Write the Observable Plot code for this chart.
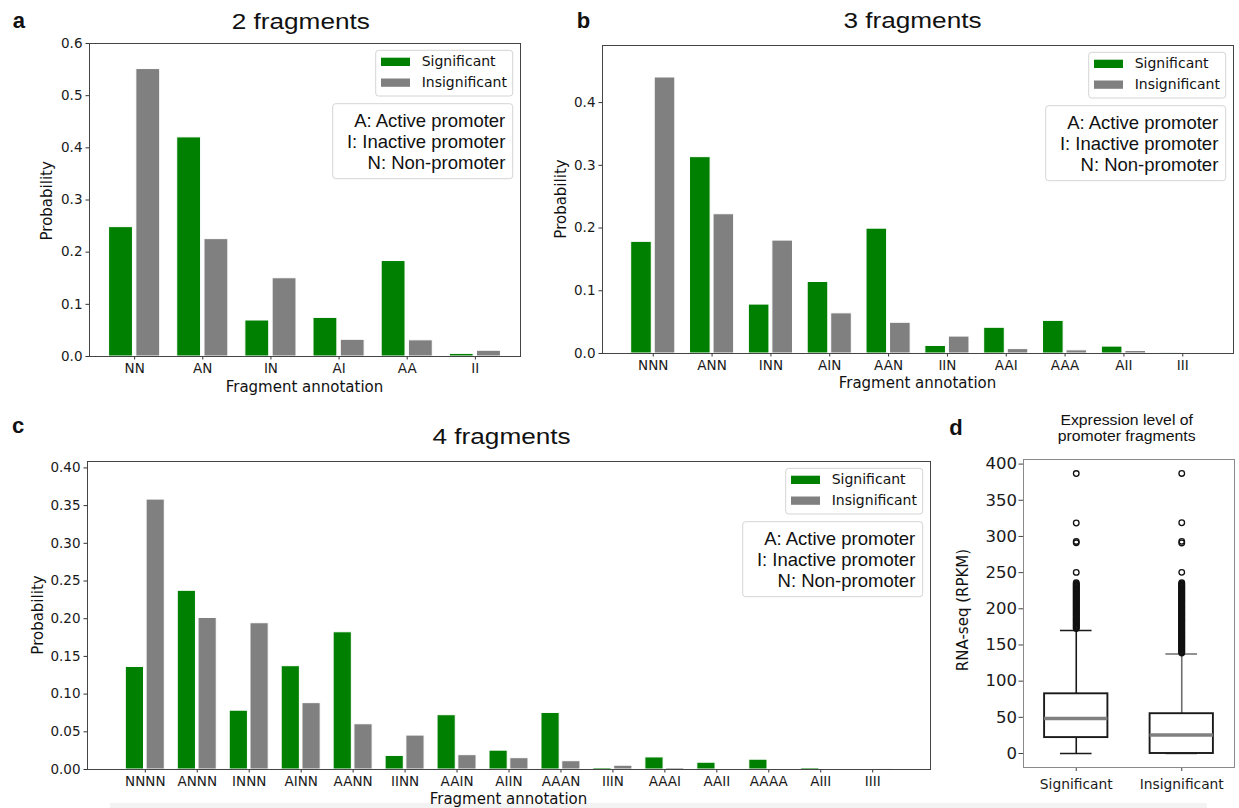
<!DOCTYPE html>
<html>
<head>
<meta charset="utf-8">
<title>Fragment annotation probabilities</title>
<script src="https://cdn.jsdelivr.net/npm/d3@7"></script>
<script src="https://cdn.jsdelivr.net/npm/@observablehq/plot@0.6"></script>
<style>
  html, body { margin: 0; padding: 0; background: #fff; }
  #fig { position: relative; width: 1239px; height: 808px; overflow: hidden; background: #fff; }
  #fig > svg { position: absolute; }
  #band { position: absolute; left: 110px; top: 803px; width: 1097px; height: 5px; background: #f3f3f3; }
</style>
</head>
<body>
<div id="fig"><div id="band"></div></div>
<script>
// ---- data -----------------------------------------------------------------
const seriesNames = ["Significant", "Insignificant"];
const seriesColors = ["#008000", "#808080"];
const keyLines = ["A: Active promoter", "I: Inactive promoter", "N: Non-promoter"];

// 2 fragments
const cats2 = ["NN", "AN", "IN", "AI", "AA", "II"];
const sig2 = [0.248, 0.420, 0.069, 0.074, 0.183, 0.005];
const insig2 = [0.551, 0.225, 0.150, 0.032, 0.031, 0.011];
const yTicks2 = [0, 0.1, 0.2, 0.3, 0.4, 0.5, 0.6];

// 3 fragments
const cats3 = ["NNN", "ANN", "INN", "AIN", "AAN", "IIN", "AAI", "AAA", "AII", "III"];
const sig3 = [0.178, 0.313, 0.078, 0.114, 0.199, 0.012, 0.041, 0.052, 0.011, 0.0003];
const insig3 = [0.440, 0.222, 0.180, 0.064, 0.049, 0.027, 0.007, 0.005, 0.004, 0.001];
const yTicks3 = [0, 0.1, 0.2, 0.3, 0.4];

// 4 fragments
const cats4 = ["NNNN", "ANNN", "INNN", "AINN", "AANN", "IINN", "AAIN", "AIIN", "AAAN", "IIIN", "AAAI", "AAII", "AAAA", "AIII", "IIII"];
const sig4 = [0.136, 0.237, 0.078, 0.137, 0.182, 0.018, 0.072, 0.025, 0.075, 0.002, 0.016, 0.009, 0.013, 0.002, 0.0];
const insig4 = [0.358, 0.201, 0.194, 0.088, 0.060, 0.045, 0.019, 0.015, 0.011, 0.005, 0.002, 0.001, 0.001, 0.001, 0.0005];
const yTicks4 = [0, 0.05, 0.10, 0.15, 0.20, 0.25, 0.30, 0.35, 0.40];

// Expression level (RPKM) box summaries
const boxGroups = ["Significant", "Insignificant"];
const boxPos = [1, 2];
const boxQ1 = [22, 0];
const boxMedian = [48.5, 25.5];
const boxQ3 = [82.5, 55];
const whiskerLow = [0, 0];
const whiskerHigh = [170, 137.5];
const fliersSig = [172.6, 173.7, 174.9, 176.2, 177.3, 178.5, 179.8, 180.9, 182.1, 183.4, 184.5, 185.7, 187.0, 188.1,
  189.3, 190.6, 191.7, 192.9, 194.2, 195.3, 196.5, 197.8, 198.9, 200.1, 201.4, 202.5, 203.7, 205.0, 206.1, 207.3,
  208.6, 209.7, 210.9, 212.2, 213.3, 214.5, 215.8, 216.9, 218.1, 219.4, 220.5, 221.7, 223.0, 224.1, 225.3, 226.6,
  227.7, 228.9, 230.2, 231.3, 232.5, 233.6, 234.8, 235.9, 250.3, 291.2, 293.1, 318.6, 386.9];
const fliersInsig = [139.0, 140.2, 141.3, 142.6, 143.8, 144.9, 146.1, 147.4, 148.5, 149.7, 151.0, 152.1, 153.3, 154.6,
  155.7, 156.9, 158.2, 159.3, 160.5, 161.8, 162.9, 164.1, 165.4, 166.5, 167.7, 169.0, 170.1, 171.3, 172.6, 173.7,
  174.9, 176.2, 177.3, 178.5, 179.8, 180.9, 182.1, 183.4, 184.5, 185.7, 187.0, 188.1, 189.3, 190.6, 191.7, 192.9,
  194.2, 195.3, 196.5, 197.8, 198.9, 200.1, 201.4, 202.5, 203.7, 205.0, 206.1, 207.3, 208.6, 209.7, 210.9, 212.2,
  213.3, 214.5, 215.8, 216.9, 218.1, 219.4, 220.5, 221.7, 223.0, 224.1, 225.3, 226.6, 227.7, 228.9, 230.2, 231.3,
  232.5, 233.6, 234.8, 235.9, 250.4, 291.0, 293.2, 318.9, 387.1];
const yTicksBox = [0, 50, 100, 150, 200, 250, 300, 350, 400];

// ---- layout ---------------------------------------------------------------
// plot frames: [left, right, top, bottom] on the page
const frames = {
  a: [89, 520, 43, 356],
  b: [602, 1233, 45, 353],
  c: [87, 930, 461, 769],
  d: [1023, 1234, 459, 767]
};
const fig = document.getElementById("fig");
const DV = "'DejaVu Sans', sans-serif";
const SANS = "'Liberation Sans', Arial, Helvetica, sans-serif";

function mount(svg, frame, m) {
  svg.style.left = (frame[0] - m.left) + "px";
  svg.style.top = (frame[2] - m.top) + "px";
  fig.appendChild(svg);
}

// grouped bar chart: significant bars left of each tick, insignificant right
function barPanel(cats, sig, insig, frame, xDomain, yDomain, yTicks, fmt) {
  const m = {left: 60, right: 6, top: 6, bottom: 30};
  const rows = cats.flatMap((c, i) => [
    {i, v: sig[i], k: seriesNames[0]},
    {i, v: insig[i], k: seriesNames[1]}
  ]);
  const svg = Plot.plot({
    width: frame[1] - frame[0] + m.left + m.right,
    height: frame[3] - frame[2] + m.top + m.bottom,
    marginLeft: m.left, marginRight: m.right, marginTop: m.top, marginBottom: m.bottom,
    style: {fontFamily: DV, fontSize: "13.5px", color: "#1a1a1a", background: "transparent", overflow: "visible"},
    x: {type: "linear", domain: xDomain},
    y: {type: "linear", domain: yDomain},
    color: {domain: seriesNames, range: seriesColors},
    marks: [
      Plot.rect(rows, {
        x1: d => d.i + (d.k === seriesNames[0] ? -0.375 : 0.025),
        x2: d => d.i + (d.k === seriesNames[0] ? -0.025 : 0.375),
        y1: 0, y2: "v", fill: "k", stroke: "white", strokeWidth: 1
      }),
      Plot.axisY({ticks: yTicks, tickFormat: fmt, tickSize: 3.5, tickPadding: 3.5, label: null, stroke: "#333"}),
      Plot.axisX({ticks: cats.map((c, i) => i), tickFormat: i => cats[i], tickSize: 3.5, tickPadding: 3.5, label: null, stroke: "#333"}),
      Plot.frame({stroke: "#444", strokeWidth: 1})
    ]
  });
  mount(svg, frame, m);
}

barPanel(cats2, sig2, insig2, frames.a, [-0.6625, 5.6625], [0, 0.6], yTicks2, d3.format(".1f"));
barPanel(cats3, sig3, insig3, frames.b, [-0.8625, 9.8625], [0, 0.491], yTicks3, d3.format(".1f"));
barPanel(cats4, sig4, insig4, frames.c, [-1.1125, 15.1125], [0, 0.4085], yTicks4, d3.format(".2f"));

// box plot of expression levels
(function boxPanel() {
  const frame = frames.d;
  const m = {left: 50, right: 4, top: 6, bottom: 30};
  const stats = boxGroups.map((g, j) => ({
    g, pos: boxPos[j], q1: boxQ1[j], med: boxMedian[j], q3: boxQ3[j], lo: whiskerLow[j], hi: whiskerHigh[j],
    fliers: j === 0 ? fliersSig : fliersInsig,
    wc: j === 0 ? "#1a1a1a" : "#6e6e6e"
  }));
  const marks = stats.flatMap(s => [
    Plot.ruleX([s], {x: "pos", y1: "q3", y2: "hi", stroke: s.wc, strokeWidth: 1.6}),
    Plot.ruleX([s], {x: "pos", y1: "lo", y2: "q1", stroke: s.wc, strokeWidth: 1.6}),
    Plot.ruleY([s], {y: "hi", x1: d => d.pos - 0.15, x2: d => d.pos + 0.15, stroke: s.wc, strokeWidth: 1.6}),
    Plot.ruleY([s], {y: "lo", x1: d => d.pos - 0.15, x2: d => d.pos + 0.15, stroke: s.wc, strokeWidth: 1.6}),
    Plot.rect([s], {x1: d => d.pos - 0.3, x2: d => d.pos + 0.3, y1: "q1", y2: "q3", fill: "white", stroke: "#1a1a1a", strokeWidth: 1.9}),
    Plot.ruleY([s], {y: "med", x1: d => d.pos - 0.3, x2: d => d.pos + 0.3, stroke: "#808080", strokeWidth: 3.5}),
    Plot.dot(s.fliers, {x: () => s.pos, y: v => v, r: 2.8, stroke: "#111", strokeWidth: 1.3, fill: "none"})
  ]);
  const svg = Plot.plot({
    width: frame[1] - frame[0] + m.left + m.right,
    height: frame[3] - frame[2] + m.top + m.bottom,
    marginLeft: m.left, marginRight: m.right, marginTop: m.top, marginBottom: m.bottom,
    style: {fontFamily: DV, fontSize: "14px", color: "#1a1a1a", background: "transparent", overflow: "visible"},
    x: {type: "linear", domain: [0.5, 2.5]},
    y: {type: "linear", domain: [-19.35, 406.35]},
    marks: [
      ...marks,
      Plot.axisY({ticks: yTicksBox, tickSize: 4.5, tickPadding: 2, label: null, fontSize: 16.5, stroke: "#444"}),
      Plot.axisX({ticks: boxPos, tickFormat: p => boxGroups[boxPos.indexOf(p)], tickSize: 4, tickPadding: 8, label: null, fontSize: 13.8, stroke: "#444"}),
      Plot.frame({stroke: "#8a8a8a", strokeWidth: 1})
    ]
  });
  mount(svg, frame, m);
})();

// ---- titles, axis labels and keys ------------------------------------------
const ov = d3.create("svg").attr("width", 1239).attr("height", 808)
  .style("left", "0px").style("top", "0px").style("pointer-events", "none");

function txt(x, y, s, o = {}) {
  const t = ov.append("text").attr("x", x).attr("y", y).text(s)
    .attr("font-family", o.font || SANS).attr("font-size", o.size || 14)
    .attr("text-anchor", o.anchor || "start").attr("fill", o.fill || "#111");
  if (o.weight) t.attr("font-weight", o.weight);
  if (o.rotate) t.attr("transform", `rotate(-90 ${x} ${y})`);
  if (o.sx) t.attr("transform", `translate(${x} ${y}) scale(${o.sx} 1) translate(${-x} ${-y})`);
  return t;
}

function keys(frame) {
  const right = frame[1] - 7.3, top = frame[2] + 7.3;
  const lx = right - 137;
  ov.append("rect").attr("x", lx).attr("y", top).attr("width", 137).attr("height", 45.7).attr("rx", 3)
    .attr("fill", "white").attr("fill-opacity", 0.85).attr("stroke", "#d4d4d4");
  seriesNames.forEach((name, j) => {
    ov.append("rect").attr("x", lx + 5.3).attr("y", top + 7.4 + j * 20.8)
      .attr("width", 29).attr("height", 8.3).attr("fill", seriesColors[j]);
    txt(lx + 46, top + 15.4 + j * 21.1, name, {font: DV, size: 14});
  });
  const ay = frame[2] + 60.7;
  ov.append("rect").attr("x", right - 180).attr("y", ay).attr("width", 180).attr("height", 75).attr("rx", 3)
    .attr("fill", "white").attr("fill-opacity", 0.85).attr("stroke", "#d4d4d4");
  keyLines.forEach((s, j) => txt(right - 7.4, ay + 23.3 + j * 21.1, s, {size: 18.5, anchor: "end"}));
}

// panel a
txt(12.7, 28.3, "a", {size: 22, weight: "bold"});
txt(300.8, 28.7, "2 fragments", {size: 22, anchor: "middle", sx: 1.19});
txt((frames.a[0] + frames.a[1]) / 2, frames.a[3] + 35.5, "Fragment annotation", {font: DV, size: 15, anchor: "middle"});
txt(52.5, 200.8, "Probability", {font: DV, size: 15, anchor: "middle", rotate: true});
keys(frames.a);

// panel b
txt(576.7, 28.3, "b", {size: 22, weight: "bold"});
txt(912.5, 28.5, "3 fragments", {size: 22, anchor: "middle", sx: 1.19});
txt((frames.b[0] + frames.b[1]) / 2, frames.b[3] + 35.0, "Fragment annotation", {font: DV, size: 15, anchor: "middle"});
txt(566, 199, "Probability", {font: DV, size: 15, anchor: "middle", rotate: true});
keys(frames.b);

// panel c
txt(12, 433.3, "c", {size: 22, weight: "bold"});
txt(501.6, 444, "4 fragments", {size: 22, anchor: "middle", sx: 1.19});
txt((frames.c[0] + frames.c[1]) / 2, frames.c[3] + 35.0, "Fragment annotation", {font: DV, size: 15, anchor: "middle"});
txt(43, 615, "Probability", {font: DV, size: 15, anchor: "middle", rotate: true});
keys(frames.c);

// panel d
txt(949.3, 435, "d", {size: 22, weight: "bold"});
txt(1126.7, 425, "Expression level of", {size: 14.5, anchor: "middle", sx: 1.09});
txt(1126.7, 441.5, "promoter fragments", {size: 14.5, anchor: "middle", sx: 1.09});
txt(968, 610, "RNA-seq (RPKM)", {font: DV, size: 15, anchor: "middle", rotate: true});

fig.appendChild(ov.node());
</script>
</body>
</html>
